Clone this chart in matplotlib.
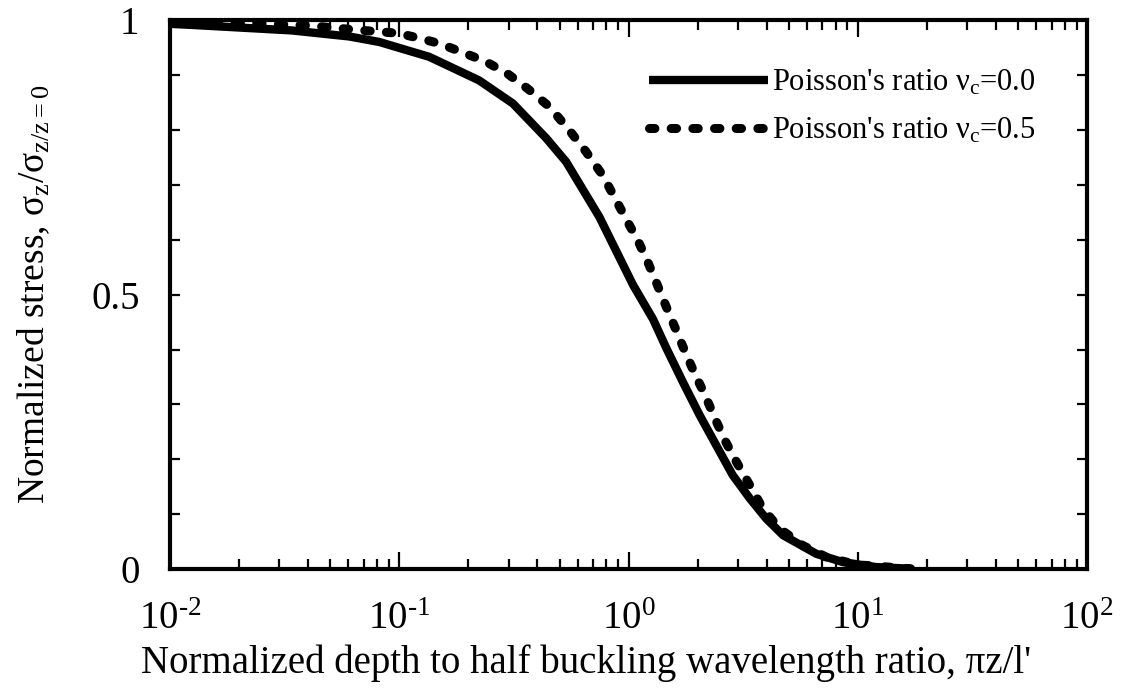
import matplotlib
matplotlib.use("Agg")
import matplotlib.pyplot as plt
from matplotlib.ticker import MultipleLocator, LogLocator, NullFormatter, FixedLocator, FixedFormatter

# values
solid_x = [0.01, 0.0125, 0.034, 0.0605, 0.0818, 0.135, 0.223, 0.313, 0.437, 0.534,
           0.747, 1.045, 1.28, 1.46, 1.73, 2.04, 2.41, 2.85, 3.38, 3.99, 4.72,
           6.6, 8.6, 12, 17]
solid_y = [0.993, 0.991, 0.981, 0.970, 0.960, 0.933, 0.890, 0.848, 0.785, 0.742,
           0.641, 0.518, 0.455, 0.403, 0.340, 0.281, 0.226, 0.171, 0.129, 0.092,
           0.062, 0.028, 0.013, 0.004, 0.001]

dash_x = [0.01, 0.02, 0.04, 0.0647, 0.0984, 0.122, 0.150, 0.189, 0.239, 0.297,
          0.363, 0.452, 0.552, 0.653, 0.772, 0.869, 0.977, 1.10, 1.22, 1.34, 1.46,
          1.61, 1.76, 1.94, 2.15, 2.38, 2.63, 2.95, 3.38, 3.86, 4.56, 5.77, 7.3, 10, 17]
dash_y = [0.997, 0.995, 0.990, 0.982, 0.976, 0.967, 0.957, 0.941, 0.924, 0.902,
          0.875, 0.842, 0.799, 0.760, 0.717, 0.677, 0.637, 0.598, 0.557, 0.516,
          0.478, 0.436, 0.397, 0.357, 0.318, 0.275, 0.235, 0.196, 0.153, 0.110,
          0.074, 0.043, 0.022, 0.008, 0.001]

labels = ["Poisson's ratio $\\nu_c$=0.0", "Poisson's ratio $\\nu_c$=0.5"]
xticks = [0.01, 0.1, 1, 10, 100]
xtick_labels = ["10$^{\u2010 2}$", "10$^{\u2010 1}$", "10$^{0}$", "10$^{1}$", "10$^{2}$"]
yticks = [0, 0.5, 1]
ytick_labels = ["0", "0.5", "1"]

plt.rcParams['font.family'] = ['Liberation Serif', 'DejaVu Serif']
plt.rcParams['mathtext.fontset'] = 'custom'
plt.rcParams['mathtext.rm'] = 'Liberation Serif'
plt.rcParams['mathtext.it'] = 'Liberation Serif'
plt.rcParams['mathtext.bf'] = 'Liberation Serif:bold'

fig = plt.figure(figsize=(11.21, 6.90), dpi=100)
ax = fig.add_axes([0.1517, 0.175, 0.818, 0.796])

ax.plot(solid_x, solid_y, color='black', lw=6, solid_capstyle='butt',
        solid_joinstyle='round', label=labels[0])
ax.plot(dash_x, dash_y, color='black', lw=6.5, linestyle=(0, (0.6, 1.8)),
        dash_capstyle='round', label=labels[1])

ax.set_xscale('log')
ax.set_xlim(0.01, 100)
ax.set_ylim(0, 1)

ax.xaxis.set_major_locator(FixedLocator(xticks))
ax.xaxis.set_major_formatter(FixedFormatter(xtick_labels))
ax.xaxis.set_minor_locator(LogLocator(base=10, subs=range(2, 10), numticks=10))
ax.xaxis.set_minor_formatter(NullFormatter())
ax.set_yticks(yticks)
ax.set_yticklabels(ytick_labels)
ax.yaxis.set_minor_locator(MultipleLocator(0.1))

ax.tick_params(which='both', direction='in', top=True, right=True, width=1.6,
               labelsize=28)
ax.tick_params(axis='x', which='major', length=12, pad=23)
ax.tick_params(axis='x', which='minor', length=7)
ax.tick_params(axis='y', which='both', length=7, pad=22)
for s in ax.spines.values():
    s.set_linewidth(3)

ax.set_xlabel("Normalized depth to half buckling wavelength ratio, πz/l'", fontsize=28)
ax.xaxis.set_label_coords(0.454, -0.137)
ax.set_ylabel("Normalized stress, $\\sigma_z/\\sigma_{z/z=0}$", fontsize=27)
ax.yaxis.set_label_coords(-0.128, 0.5)

ax.legend(loc='upper left', bbox_to_anchor=(0.492, 0.962), frameon=False, fontsize=22,
          handlelength=3.9, handletextpad=0.15, labelspacing=0.6)

plt.savefig("out.png", dpi=100)
